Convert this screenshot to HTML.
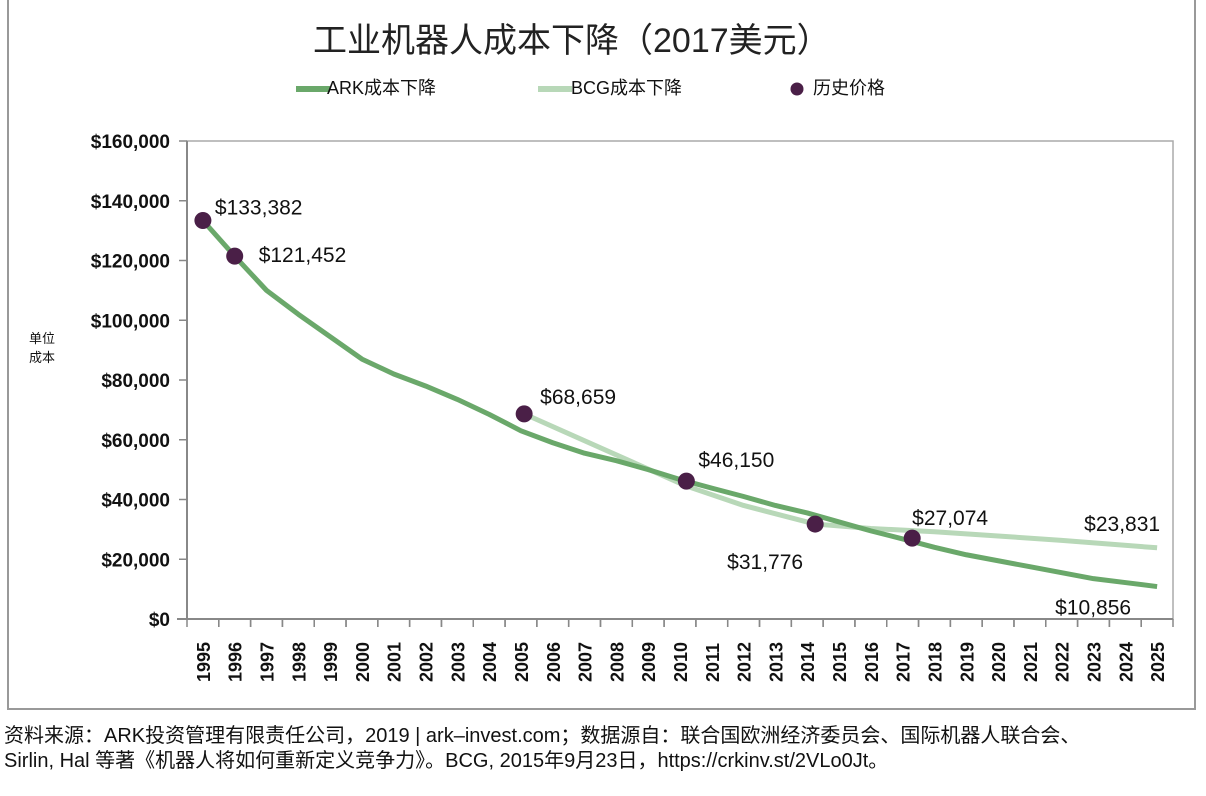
<!DOCTYPE html>
<html><head><meta charset="utf-8"><style>
body{margin:0;width:1206px;height:796px;background:#fff;font-family:"Liberation Sans","Noto Sans CJK SC",sans-serif;overflow:hidden;position:relative}
.frame{position:absolute;left:7px;top:-2px;width:1189px;height:712px;border:2px solid #999;border-top:none;box-sizing:border-box}
.foot{position:absolute;left:4px;font-size:20px;color:#111;white-space:nowrap}
</style></head><body>
<div class="frame"></div>
<svg id="c" width="1206" height="796" style="position:absolute;left:0;top:0"></svg>
<div class="foot" style="top:719px">资料来源：ARK投资管理有限责任公司，2019 | ark–invest.com；数据源自：联合国欧洲经济委员会、国际机器人联合会、</div>
<div class="foot" style="top:744px">Sirlin, Hal 等著《机器人将如何重新定义竞争力》。BCG, 2015年9月23日，https://crkinv.st/2VLo0Jt。</div>
<script>
const years=[1995,1996,1997,1998,1999,2000,2001,2002,2003,2004,2005,2006,2007,2008,2009,2010,2011,2012,2013,2014,2015,2016,2017,2018,2019,2020,2021,2022,2023,2024,2025];
const arkValues=[133382,121452,110000,102000,94500,87000,82000,78000,73500,68500,63000,59000,55500,53000,50000,46700,43800,41000,38000,35500,32500,29500,26800,24000,21500,19500,17500,15500,13500,12200,10856];
const bcgYears=[2005.1,2010.2,2012,2014.25,2016,2018,2020,2022,2025];
const bcgValues=[68659,44500,38000,31776,30300,29200,27800,26300,23831];
const histYears=[1995,1996,2005.1,2010.2,2014.25,2017.3];
const histValues=[133382,121452,68659,46150,31776,27074];
const histLabels=["$133,382","$121,452","$68,659","$46,150","$31,776","$27,074"];
const yTicks=[0,20000,40000,60000,80000,100000,120000,140000,160000];
const endLabels=["$23,831","$10,856"];
const svg=document.getElementById('c');const NS='http://www.w3.org/2000/svg';
const L=187,R=1173,T=141,B=619,bw=(R-L)/years.length;
const x=y=>L+(y-1995+0.5)*bw;
const yS=v=>B-(v/160000)*(B-T);
function el(t,a,p){const e=document.createElementNS(NS,t);for(const k in a)e.setAttribute(k,a[k]);(p||svg).appendChild(e);return e;}
function tx(s,a){const e=el('text',a);e.textContent=s;return e;}
let e;
e=tx('工业机器人成本下降（2017美元）',{x:313,y:52,'font-size':34,fill:'#222'});

e=el('line',{x1:296,y1:89,x2:330,y2:89,stroke:'#6aa86a','stroke-width':6});

e=tx('ARK成本下降',{x:327,y:94,'font-size':18,fill:'#111'});

e=el('line',{x1:538,y1:89,x2:572,y2:89,stroke:'#b8d8b8','stroke-width':6});

e=tx('BCG成本下降',{x:571,y:94,'font-size':18,fill:'#111'});

e=el('circle',{cx:797,cy:89,r:6.5,fill:'#4a1f47'});

e=tx('历史价格',{x:813,y:94,'font-size':18,fill:'#111'});

e=el('rect',{x:L,y:T,width:R-L,height:B-T,fill:'none',stroke:'#aaa','stroke-width':1.5});

el('line',{x1:L,y1:T,x2:L,y2:B,stroke:'#888','stroke-width':2});
el('line',{x1:L-10,y1:B,x2:R,y2:B,stroke:'#888','stroke-width':2});
yTicks.forEach(v=>{el('line',{x1:L-8,y1:yS(v),x2:L,y2:yS(v),stroke:'#888','stroke-width':1.5});
 e=tx('$'+v.toLocaleString('en-US'),{x:170,y:yS(v)+7,'text-anchor':'end','font-size':19,'font-weight':'bold',fill:'#111'});
 });
e=tx('单位',{x:42,y:343,'text-anchor':'middle','font-size':13,fill:'#111'});

tx('成本',{x:42,y:362,'text-anchor':'middle','font-size':13,fill:'#111'});
years.forEach((yr,i)=>{const xl=L+(i+1)*bw;el('line',{x1:xl,y1:B,x2:xl,y2:B+8,stroke:'#888','stroke-width':1.5});
 el('line',{x1:L+i*bw,y1:B,x2:L+i*bw,y2:B+8,stroke:'#888','stroke-width':1.5});
 e=tx(String(yr),{transform:`translate(${x(yr)+7},682) rotate(-90)`,'font-size':18,'font-weight':'bold',fill:'#111'});
 });
e=el('polyline',{points:bcgYears.map((y,i)=>x(y)+','+yS(bcgValues[i])).join(' '),fill:'none',stroke:'#b8d8b8','stroke-width':5,'stroke-linejoin':'round'});

e=el('polyline',{points:years.map((y,i)=>x(y)+','+yS(arkValues[i])).join(' '),fill:'none',stroke:'#6aa86a','stroke-width':5,'stroke-linejoin':'round'});

const off=[[12,-13],[24,-1],[16,-17],[12,-21],[-88,38],[0,-20]];
histYears.forEach((y,i)=>{e=el('circle',{cx:x(y),cy:yS(histValues[i]),r:8.5,fill:'#4a1f47'});
 
 e=tx(histLabels[i],{x:x(y)+off[i][0],y:yS(histValues[i])+off[i][1]+7,'font-size':21,fill:'#111'});
 });
e=tx(endLabels[0],{x:x(2025)+3,y:yS(bcgValues[bcgValues.length-1])-17,'text-anchor':'end','font-size':21,fill:'#111'});

e=tx(endLabels[1],{x:x(2025)-26,y:yS(arkValues[arkValues.length-1])+28,'text-anchor':'end','font-size':21,fill:'#111'});

</script>
</body></html>
